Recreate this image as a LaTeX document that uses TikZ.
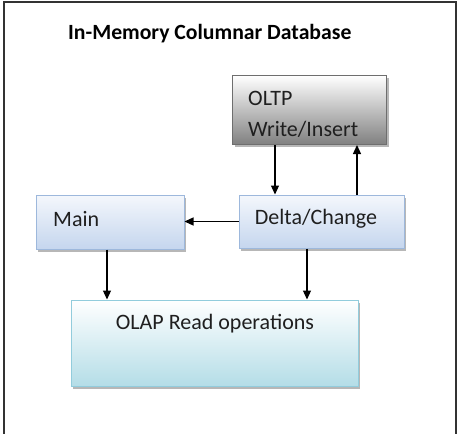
\documentclass[tikz,border=0pt]{standalone}
\usepackage{fontspec}
\setmainfont{Carlito}
\usetikzlibrary{arrows.meta,shadows}
\definecolor{bluetop}{HTML}{F4F7FC}
\definecolor{bluebot}{HTML}{C5D6EE}
\definecolor{blueline}{HTML}{9DB8DC}
\definecolor{aquatop}{HTML}{FFFFFF}
\definecolor{aquabot}{HTML}{B4DDE7}
\definecolor{aqualine}{HTML}{92CCDC}
\definecolor{graytop}{HTML}{FFFFFF}
\definecolor{graybot}{HTML}{808080}
\definecolor{grayline}{HTML}{6E6E6E}
\tikzset{
  x=1pt,y=-1pt,
  boxbase/.style={draw,line width=1pt,rectangle,inner sep=0pt,
    drop shadow={shadow xshift=2pt,shadow yshift=-2.5pt,fill=black!40,opacity=0.7}},
  bluebox/.style={boxbase,draw=blueline,top color=bluetop,bottom color=bluebot},
  aquabox/.style={boxbase,draw=aqualine,top color=aquatop,bottom color=aquabot},
  graybox/.style={boxbase,draw=grayline,top color=graytop,bottom color=graybot},
  lbl/.style={font=\fontsize{22}{26}\selectfont,text=black!88,inner sep=0pt},
  arr/.style={line width=1.2pt,-{Triangle[length=9pt,width=8pt]}}
}
\begin{document}
\begin{tikzpicture}
\useasboundingbox (0,0) rectangle (459,434);
\fill[white] (0,0) rectangle (459,434);
\draw[line width=1.5pt,black!80] (4,440) -- (4,2) -- (456,2) -- (456,440);
\node[font=\bfseries\fontsize{21.7}{26}\selectfont,anchor=west,inner sep=0pt] (title) at (68,34) {In-Memory Columnar Database};
% boxes
\node[graybox,minimum width=154pt,minimum height=69pt] (oltp) at (309.5,110) {};
\node[bluebox,minimum width=165pt,minimum height=53pt] (delta) at (321.5,221.5) {};
\node[bluebox,minimum width=148pt,minimum height=54pt] (main) at (110,222) {};
\node[aquabox,minimum width=287pt,minimum height=86pt] (olap) at (214.5,343) {};
% labels
\node[lbl,anchor=west] (t1) at (248,98) {OLTP};
\node[lbl,anchor=west] (t2) at (248,129) {Write/Insert};
\node[lbl,anchor=west] (t3) at (53,219) {Main};
\node[lbl] (t4) at (316,219) {Delta/Change};
\node[lbl] (t5) at (215,324) {OLAP Read operations};
% arrows
\draw[arr] (oltp.south -| 275,0) -- (delta.north -| 275,0);
\draw[arr] (delta.north -| 357,0) -- (oltp.south -| 357,0);
\draw[arr] (delta.west) -- (main.east |- delta.west);
\draw[arr] (main.south -| 107,0) -- (olap.north -| 107,0);
\draw[arr] (delta.south -| 307,0) -- (olap.north -| 307,0);
\end{tikzpicture}
\end{document}
